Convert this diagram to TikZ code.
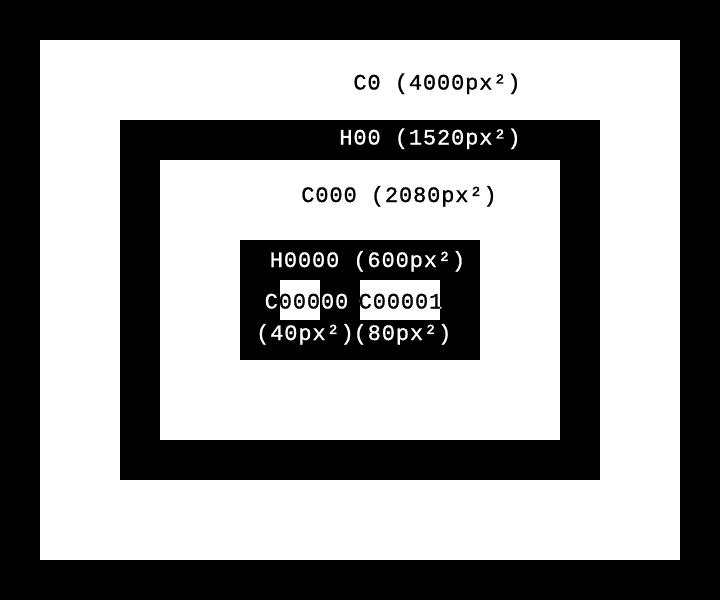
\documentclass[tikz,border=0pt]{standalone}
\usepackage{fontspec}
\newfontfamily\monolbl[LetterSpace=4,FakeBold=1]{Liberation Mono}
\usetikzlibrary{positioning}

\begin{document}
\begin{tikzpicture}[x=1pt,y=-1pt]
	% nested cells and holes
	\fill[black] (0,0) rectangle (720,600);
	\fill[white] (40,40) rectangle (680,560);
	\fill[black] (120,120) rectangle (600,480);
	\fill[white] (160,160) rectangle (560,440);
	\fill[black] (240,240) rectangle (480,360);
	\fill[white] (280,280) rectangle (320,320);
	\fill[white] (360,280) rectangle (440,320);
	\begin{scope}[every node/.style={anchor=base,inner sep=0pt,font={\monolbl\fontsize{22pt}{22pt}\selectfont}}]
		\node[text=black] (c0) at (437,89.5) {C0 (4000px²)};
		\node[text=white] (h00) at (430,144.5) {H00 (1520px²)};
		\node[text=black] (c000) at (399,202) {C000 (2080px²)};
		\node[text=white] (h0000) at (367.5,267) {H0000 (600px²)};
		\node[text=white] (c00000) at (306.5,308.5) {C00000};
		\node[text=white] (c00001) at (400.5,308.5) {C00001};
		\node[text=white] (a00000) at (305,340) {(40px²)};
		\node[text=white] (a00001) at (402.5,340) {(80px²)};
		% inverted text over the white cells
		\begin{scope}
			\clip (280,280) rectangle (320,320) (360,280) rectangle (440,320);
			\node[text=black] (c00000ink) at (c00000.base) {C00000};
			\node[text=black] (c00001ink) at (c00001.base) {C00001};
		\end{scope}
	\end{scope}
\end{tikzpicture}
\end{document}
